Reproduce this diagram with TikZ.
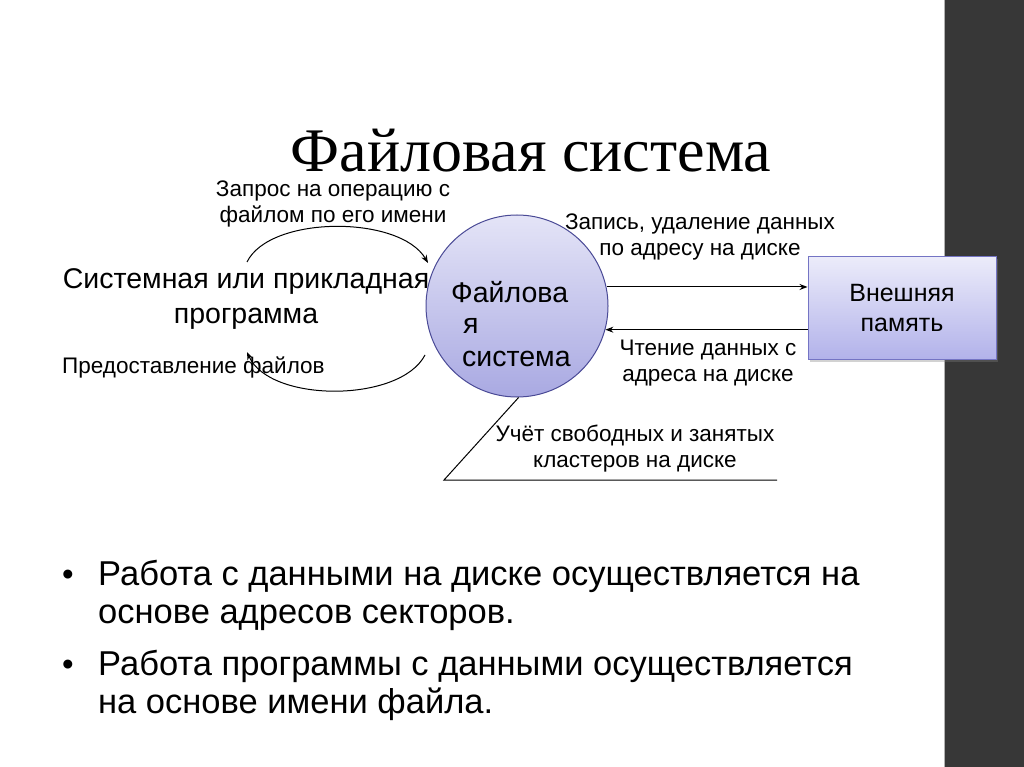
\documentclass[tikz,border=0pt]{standalone}
\usepackage{fontspec}
\setmainfont{Liberation Sans}
\newfontfamily\titlefont{Liberation Serif}
\usetikzlibrary{shadows,arrows.meta}
\definecolor{barcol}{HTML}{373737}
\definecolor{circtop}{HTML}{E4E4F7}
\definecolor{circbot}{HTML}{A9A9E2}
\definecolor{circline}{HTML}{4A4A96}
\definecolor{boxtop}{HTML}{ECECFA}
\definecolor{boxbot}{HTML}{B2B2EA}
\definecolor{boxline}{HTML}{7474C4}
\tikzset{
  lbl/.style={inner sep=0pt, align=center, font=\fontsize{22.5}{26}\selectfont},
  big/.style={inner sep=0pt, align=center, font=\fontsize{28.5}{35}\selectfont},
  bul/.style={inner sep=0pt, anchor=base west, font=\fontsize{34.5}{37}\selectfont},
  dot/.style={inner sep=0pt, anchor=base, font=\fontsize{33}{37}\selectfont},
  conn/.style={line width=1pt, -{Stealth[length=8pt,width=6pt]}},
  plain/.style={line width=1pt}
}
\begin{document}
\begin{tikzpicture}[x=1pt,y=-1pt]
\useasboundingbox (0,0) rectangle (1024,767);
\fill[white] (0,0) rectangle (1024,767);
\fill[barcol] (945,0) rectangle (1024,767);
\draw[gray!60, line width=0.8pt] (944.5,0) -- (944.5,767);

\node[inner sep=0pt, anchor=base, font=\titlefont\fontsize{62}{66}\selectfont] (title) at (531,172) {Файловая система};

\node[big] (prog) at (246,299) {Системная или прикладная\\программа};

\node[circle, minimum size=182pt, inner sep=0pt, draw=circline, line width=1pt,
      top color=circtop, bottom color=circbot] (fs) at (517,306) {};
\node[big, anchor=west] (fs1) at (451,292) {Файлова};
\node[big, anchor=west] (fs2) at (463,326) {я};
\node[big, anchor=west] (fs3) at (462,359) {система};

\node[rectangle, minimum width=188pt, minimum height=103pt, inner sep=0pt,
      draw=boxline, line width=1pt, top color=boxtop, bottom color=boxbot,
      drop shadow={shadow xshift=2pt, shadow yshift=-2pt, opacity=0.35}] (mem) at (902,308) {};
\node[inner sep=0pt, align=center, font=\fontsize{25}{30}\selectfont] (memt) at (mem.center) {Внешняя\\память};

\node[lbl] (req) at (333,204) {Запрос на операцию с\\файлом по его имени};
\node[lbl, anchor=west] (prov) at (62,367) {Предоставление файлов};
\node[lbl] (wr) at (700,237) {Запись, удаление данных\\по адресу на диске};
\node[lbl] (rd) at (708,363) {Чтение данных с\\адреса на диске};
\node[lbl] (acc) at (635,449) {Учёт свободных и занятых\\кластеров на диске};

\coordinate (ra) at (247,262);
\coordinate (rb) at (428,263);
\draw[conn] (ra) .. controls (270,215) and (400,215) .. (rb);
\coordinate (pa) at (425,355);
\coordinate (pb) at (247,352);
\draw[conn] (pa) .. controls (400,403) and (270,403) .. (pb);

\draw[conn] (fs.12) -- (fs.12 -| mem.west);
\draw[conn] (fs.-15 -| mem.west) -- (fs.-15);

\coordinate (lc) at (444,480);
\coordinate (rc) at (777,480);
\draw[plain] (fs.-89) -- (lc) -- (rc);

\node[bul] (b1a) at (98,585) {Работа с данными на диске осуществляется на};
\node[bul] (b1b) at (98,623) {основе адресов секторов.};
\node[bul] (b2a) at (98,675) {Работа программы с данными осуществляется};
\node[bul] (b2b) at (98,713) {на основе имени файла.};
\node[dot] (d1) at (68,585) {•};
\node[dot] (d2) at (68,675) {•};
\end{tikzpicture}
\end{document}
